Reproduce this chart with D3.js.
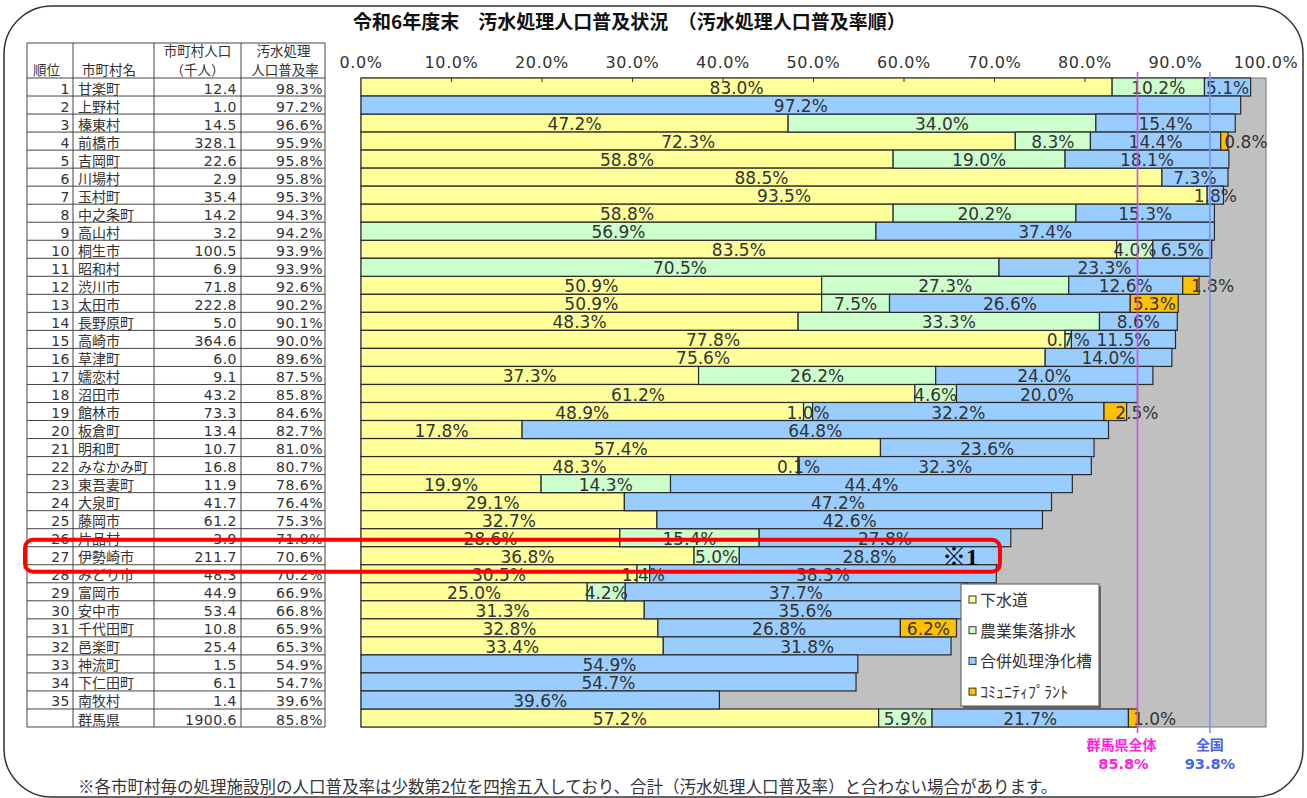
<!DOCTYPE html>
<html>
<head>
<meta charset="utf-8">
<script src="https://cdn.jsdelivr.net/npm/d3@7"></script>
<style>
  body { margin: 0; background: #fff; }
  svg { display: block; }
</style>
</head>
<body>
<script>
// data (令和6年度末 汚水処理人口普及状況)
const names = ["甘楽町","上野村","榛東村","前橋市","吉岡町","川場村","玉村町","中之条町","高山村","桐生市",
  "昭和村","渋川市","太田市","長野原町","高崎市","草津町","嬬恋村","沼田市","館林市","板倉町",
  "明和町","みなかみ町","東吾妻町","大泉町","藤岡市","片品村","伊勢崎市","みどり市","富岡市","安中市",
  "千代田町","邑楽町","神流町","下仁田町","南牧村","群馬県"];
const population = [12.4,1.0,14.5,328.1,22.6,2.9,35.4,14.2,3.2,100.5,
  6.9,71.8,222.8,5.0,364.6,6.0,9.1,43.2,73.3,13.4,
  10.7,16.8,11.9,41.7,61.2,3.9,211.7,48.3,44.9,53.4,
  10.8,25.4,1.5,6.1,1.4,1900.6];
const rate = [98.3,97.2,96.6,95.9,95.8,95.8,95.3,94.3,94.2,93.9,
  93.9,92.6,90.2,90.1,90.0,89.6,87.5,85.8,84.6,82.7,
  81.0,80.7,78.6,76.4,75.3,71.8,70.6,70.2,66.9,66.8,
  65.9,65.3,54.9,54.7,39.6,85.8];
const sewer = [83.0,0,47.2,72.3,58.8,88.5,93.5,58.8,0,83.5,
  0,50.9,50.9,48.3,77.8,75.6,37.3,61.2,48.9,17.8,
  57.4,48.3,19.9,29.1,32.7,28.6,36.8,30.5,25.0,31.3,
  32.8,33.4,0,0,0,57.2];
const rural = [10.2,0,34.0,8.3,19.0,0,0,20.2,56.9,4.0,
  70.5,27.3,7.5,33.3,0.7,0,26.2,4.6,1.0,0,
  0,0.1,14.3,0,0,15.4,5.0,1.4,4.2,0,
  0,0,0,0,0,5.9];
const johkaso = [5.1,97.2,15.4,14.4,18.1,7.3,1.8,15.3,37.4,6.5,
  23.3,12.6,26.6,8.6,11.5,14.0,24.0,20.0,32.2,64.8,
  23.6,32.3,44.4,47.2,42.6,27.8,28.8,38.3,37.7,35.6,
  26.8,31.8,54.9,54.7,39.6,21.7];
const community = [0,0,0,0.8,0,0,0,0,0,0,
  0,1.8,5.3,0,0,0,0,0,2.5,0,
  0,0,0,0,0,0,0,0,0,0,
  6.2,0,0,0,0,1.0];
const seriesNames = ["下水道","農業集落排水","合併処理浄化槽","ｺﾐｭﾆﾃｨﾌﾟﾗﾝﾄ"];
const seriesColors = ["#ffff99","#ccffcc","#99ccff","#ffc000"];
const xTicks = [0,10,20,30,40,50,60,70,80,90,100];
const refLabels = ["群馬県全体","全国"];
const refValues = [85.8,93.8];
const refColors = ["#ff22dd","#4466ee"];
const refLineColors = ["#e645e6","#7890ff"];
const highlightRow = "伊勢崎市";

const W = 1307, H = 798;
const NUM = "'DejaVu Sans','Noto Sans CJK JP',sans-serif";
const JP = "'Noto Sans CJK JP',sans-serif";

const rows = names.map((n, i) => ({
  name: n, pop: population[i], rate: rate[i],
  [seriesNames[0]]: sewer[i], [seriesNames[1]]: rural[i],
  [seriesNames[2]]: johkaso[i], [seriesNames[3]]: community[i]
}));

const svg = d3.select("body").append("svg").attr("width", W).attr("height", H);

// outer frame
svg.append("rect")
  .attr("x", 4).attr("y", 6).attr("width", 1299).attr("height", 791)
  .attr("rx", 48).attr("fill", "none").attr("stroke", "#333").attr("stroke-width", 1.5);

// title
svg.append("text")
  .attr("x", 353).attr("y", 29)
  .attr("font-family", JP).attr("font-size", 19).attr("font-weight", "bold")
  .attr("fill", "#111")
  .text("令和6年度末　汚水処理人口普及状況　（汚水処理人口普及率順）");

const x = d3.scaleLinear().domain([0, 100]).range([361, 1266]);
const y = d3.scaleBand().domain(d3.range(rows.length)).range([78, 727]).padding(0);
const color = d3.scaleOrdinal().domain(seriesNames).range(seriesColors);

// plot background
svg.append("rect")
  .attr("x", x(0)).attr("y", y.range()[0])
  .attr("width", x(100) - x(0)).attr("height", y.range()[1] - y.range()[0])
  .attr("fill", "#c0c0c0").attr("stroke", "#777").attr("stroke-width", 1);

// top axis labels
svg.append("g").selectAll("text")
  .data(xTicks).join("text")
  .attr("x", d => x(d)).attr("y", 68)
  .attr("text-anchor", "middle")
  .attr("font-family", NUM).attr("font-size", 16).attr("letter-spacing", 0.6)
  .attr("fill", "#333")
  .text(d => d.toFixed(1) + "%");

// stacked bars
const stacked = d3.stack().keys(seriesNames)(rows);
const segs = [];
stacked.forEach(s => s.forEach((d, i) => {
  const v = d.data[s.key];
  if (v > 0) segs.push({ key: s.key, i, x0: d[0], x1: d[1], v });
}));

svg.append("g").selectAll("rect")
  .data(segs).join("rect")
  .attr("x", d => x(d.x0)).attr("y", d => y(d.i))
  .attr("width", d => x(d.x1) - x(d.x0)).attr("height", y.bandwidth())
  .attr("fill", d => color(d.key))
  .attr("stroke", "#2a2a2a").attr("stroke-width", 1.2);

// small ticks along the top of the plot
svg.append("g").selectAll("line")
  .data(xTicks.slice(1, -1)).join("line")
  .attr("x1", d => x(d)).attr("x2", d => x(d))
  .attr("y1", 78).attr("y2", 82)
  .attr("stroke", "#333");

// segment labels
svg.append("g").selectAll("text")
  .data(segs).join("text")
  .each(function (d) {
    const cx = (x(d.x0) + x(d.x1)) / 2;
    const narrow = d.key === seriesNames[3] && (x(d.x1) - x(d.x0)) < 40;
    d3.select(this)
      .attr("x", cx)
      .attr("text-anchor", narrow ? "start" : "middle");
  })
  .attr("y", d => y(d.i) + y.bandwidth() - 2)
  .attr("font-family", NUM).attr("font-size", 17)
  .attr("fill", "#333")
  .text(d => d.v.toFixed(1) + "%");

// reference lines
refValues.forEach((v, k) => {
  svg.append("line")
    .attr("x1", x(v)).attr("x2", x(v))
    .attr("y1", 72).attr("y2", 733)
    .attr("stroke", refLineColors[k]).attr("stroke-width", 1.6);
  const cx = k === 0 ? x(v) - 16 : x(v);
  svg.append("text")
    .attr("x", cx).attr("y", 750).attr("text-anchor", "middle")
    .attr("font-family", JP).attr("font-size", 14).attr("font-weight", "bold")
    .attr("fill", refColors[k]).text(refLabels[k]);
  svg.append("text")
    .attr("x", cx + (k === 0 ? 2 : 0)).attr("y", 769).attr("text-anchor", "middle")
    .attr("font-family", NUM).attr("font-size", 14.5).attr("font-weight", "bold")
    .attr("fill", refColors[k]).text(v.toFixed(1) + "%");
});

// legend
const lg = svg.append("g").attr("transform", "translate(961,584)");
lg.append("rect").attr("x", 2).attr("y", 2).attr("width", 138).attr("height", 122).attr("fill", "#666");
lg.append("rect").attr("width", 138).attr("height", 122)
  .attr("fill", "#fff").attr("stroke", "#555");
const li = lg.selectAll("g.item").data(seriesNames).join("g")
  .attr("class", "item")
  .attr("transform", (d, i) => `translate(0,${16 + i * 30.7})`);
li.append("rect").attr("x", 8).attr("y", -4).attr("width", 7).attr("height", 7)
  .attr("fill", d => color(d)).attr("stroke", "#333");
li.append("text").attr("x", 19).attr("y", 6)
  .attr("font-family", JP).attr("font-size", 16).attr("fill", "#333")
  .text(d => d);

// table
const cols = [27, 73, 154, 241, 325];
const tbl = svg.append("g");
const lineY = d3.range(rows.length + 1).map(i => i < rows.length ? y(i) : y.range()[1]);
tbl.selectAll("line.h")
  .data([43].concat(lineY)).join("line")
  .attr("x1", cols[0]).attr("x2", cols[4])
  .attr("y1", d => d).attr("y2", d => d)
  .attr("stroke", "#444");
tbl.selectAll("line.v")
  .data(cols).join("line")
  .attr("x1", d => d).attr("x2", d => d)
  .attr("y1", 43).attr("y2", y.range()[1])
  .attr("stroke", "#444");

const hdr = [
  { t: "順位", x: 33, y: 75, a: "start" },
  { t: "市町村名", x: 82, y: 75, a: "start" },
  { t: "市町村人口", x: 197.5, y: 56, a: "middle" },
  { t: "（千人）", x: 197.5, y: 75, a: "middle" },
  { t: "汚水処理", x: 283.5, y: 56, a: "middle" },
  { t: "人口普及率", x: 285, y: 75, a: "middle" }
];
tbl.selectAll("text.h").data(hdr).join("text")
  .attr("x", d => d.x).attr("y", d => d.y).attr("text-anchor", d => d.a)
  .attr("font-family", JP).attr("font-size", 13.5).attr("fill", "#333")
  .text(d => d.t);

const tr = tbl.selectAll("g.r").data(rows).join("g")
  .attr("transform", (d, i) => `translate(0,${y(i) + y.bandwidth() - 2.5})`);
tr.append("text").attr("x", 70).attr("text-anchor", "end")
  .attr("font-family", NUM).attr("font-size", 14).attr("letter-spacing", 0.5).attr("fill", "#333")
  .text((d, i) => i < rows.length - 1 ? i + 1 : "");
tr.append("text").attr("x", 78)
  .attr("font-family", JP).attr("font-size", 14).attr("fill", "#333")
  .text(d => d.name);
tr.append("text").attr("x", 237).attr("text-anchor", "end")
  .attr("font-family", NUM).attr("font-size", 14).attr("letter-spacing", 0.5).attr("fill", "#333")
  .text(d => d.pop.toFixed(1));
tr.append("text").attr("x", 323).attr("text-anchor", "end")
  .attr("font-family", NUM).attr("font-size", 14).attr("letter-spacing", 0.5).attr("fill", "#333")
  .text(d => d.rate.toFixed(1) + "%");

// highlight box around row 27
const hi = names.indexOf(highlightRow);
svg.append("rect")
  .attr("x", 25).attr("y", y(hi) - 7)
  .attr("width", x(rate[hi]) - 25).attr("height", y.bandwidth() + 14)
  .attr("rx", 8).attr("fill", "none")
  .attr("stroke", "#ff0000").attr("stroke-width", 4);
svg.append("text")
  .attr("x", x(rate[hi]) - 22).attr("y", y(hi) + y.bandwidth())
  .attr("text-anchor", "end")
  .attr("font-family", "'Liberation Serif','Noto Sans CJK JP',serif").attr("font-size", 24)
  .attr("font-weight", "bold")
  .attr("fill", "#000")
  .text("※1");

// footnote
svg.append("text")
  .attr("x", 78).attr("y", 793)
  .attr("font-family", JP).attr("font-size", 16.5).attr("fill", "#333")
  .text("※各市町村毎の処理施設別の人口普及率は少数第2位を四捨五入しており、合計（汚水処理人口普及率）と合わない場合があります。");
</script>
</body>
</html>
